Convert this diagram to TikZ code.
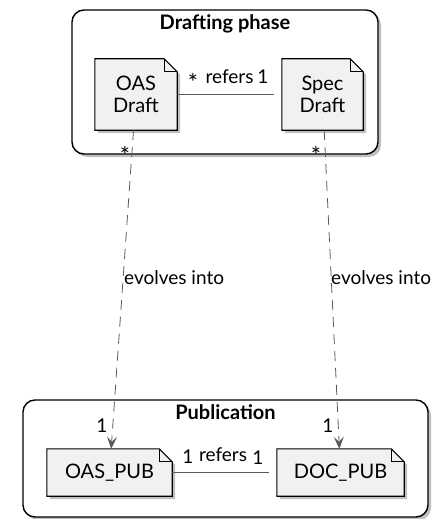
\documentclass[tikz,border=0pt]{standalone}
\usepackage{fontspec}
\setmainfont{Lato}
\usetikzlibrary{arrows.meta, positioning, shadows}
\definecolor{notefill}{RGB}{241,241,241}
\definecolor{linegray}{RGB}{90,90,90}
\definecolor{shadowgray}{RGB}{150,150,150}
\pgfdeclarelayer{frames}
\pgfdeclarelayer{notes}
\pgfsetlayers{frames,notes,main}
\newcommand{\ear}{13pt}

\begin{document}
\begin{tikzpicture}[x=1pt, y=-1pt,
  frame/.style={draw, line width=1.4pt, rounded corners=12pt, fill=white,
    drop shadow={shadow xshift=3pt, shadow yshift=-3pt, fill=shadowgray, opacity=.6}},
  frametitle/.style={font=\bfseries\fontsize{20}{22}\selectfont, inner sep=1pt},
  docnote/.style={align=center, inner sep=0pt, font=\fontsize{20}{22}\selectfont},
  notebody/.style={draw, line width=1.1pt, fill=notefill, line join=miter,
    drop shadow={shadow xshift=3pt, shadow yshift=-3pt, fill=shadowgray, opacity=.6}},
  lbl/.style={font=\fontsize{19}{21}\selectfont, inner sep=0pt, anchor=base},
  star/.style={lbl, font=\fontsize{24}{24}\selectfont},
  assoc/.style={draw=linegray, line width=0.8pt, shorten >=8pt},
  evolve/.style={draw=linegray, line width=0.8pt, dash pattern=on 10pt off 7pt,
    -{Stealth[length=12pt, width=10pt, inset=5pt, fill=linegray]}}
]
  \useasboundingbox (0,0) rectangle (431,519);

  % packages
  \begin{pgfonlayer}{frames}
    \node[frame, minimum width=306pt, minimum height=144pt] (drafting) at (225,82) {};
    \node[frame, minimum width=405pt, minimum height=117pt] (publication) at (225.5,458.5) {};
  \end{pgfonlayer}
  \node[frametitle, below=4pt of drafting.north] (draftingtitle) {Drafting phase};
  \node[frametitle, below=4pt of publication.north] (publicationtitle) {Publication};

  % artifacts
  \node[docnote, minimum width=82pt, minimum height=71pt] (oasdraft) at (136,94.5) {OAS\\Draft};
  \node[docnote, minimum width=81pt, minimum height=71pt] (specdraft) at (322.5,94.5) {Spec\\Draft};
  \node[docnote, minimum width=125pt, minimum height=47pt] (oaspub) at (109.5,472.5) {OAS\_PUB};
  \node[docnote, minimum width=127pt, minimum height=47pt] (docpub) at (340.5,472.5) {DOC\_PUB};

  \begin{pgfonlayer}{notes}
    \foreach \n in {oasdraft,specdraft,oaspub,docpub}{
      \path[notebody] (\n.south west) -- (\n.north west) -- ([xshift=-\ear]\n.north east)
        -- ([yshift=-\ear]\n.north east) -- (\n.south east) -- cycle;
      \draw[line width=1.1pt] ([xshift=-\ear]\n.north east) |- ([yshift=-\ear]\n.north east);
    }
  \end{pgfonlayer}

  % refers
  \draw[assoc] (oasdraft) -- (specdraft);
  \node[star] (r1a) at (193,91) {*};
  \node[lbl] (r1) at (229.5,84) {refers};
  \node[lbl] (r1b) at (263,84) {1};
  \draw[assoc] (oaspub) -- (docpub);
  \node[lbl] (r2a) at (188,463) {1};
  \node[lbl] (r2) at (223,461) {refers};
  \node[lbl] (r2b) at (258,464) {1};

  % evolves into
  \draw[evolve] (oasdraft) -- (oaspub);
  \draw[evolve] (specdraft) -- (docpub);
  \node[lbl, anchor=west] (ev1) at (124,278) {evolves into};
  \node[lbl, anchor=west] (ev2) at (331,278) {evolves into};
  \node[star] (m1) at (125,164) {*};
  \node[star] (m2) at (316,164) {*};
  \node[lbl] (m3) at (102,432) {1};
  \node[lbl] (m4) at (328,432) {1};
\end{tikzpicture}
\end{document}
